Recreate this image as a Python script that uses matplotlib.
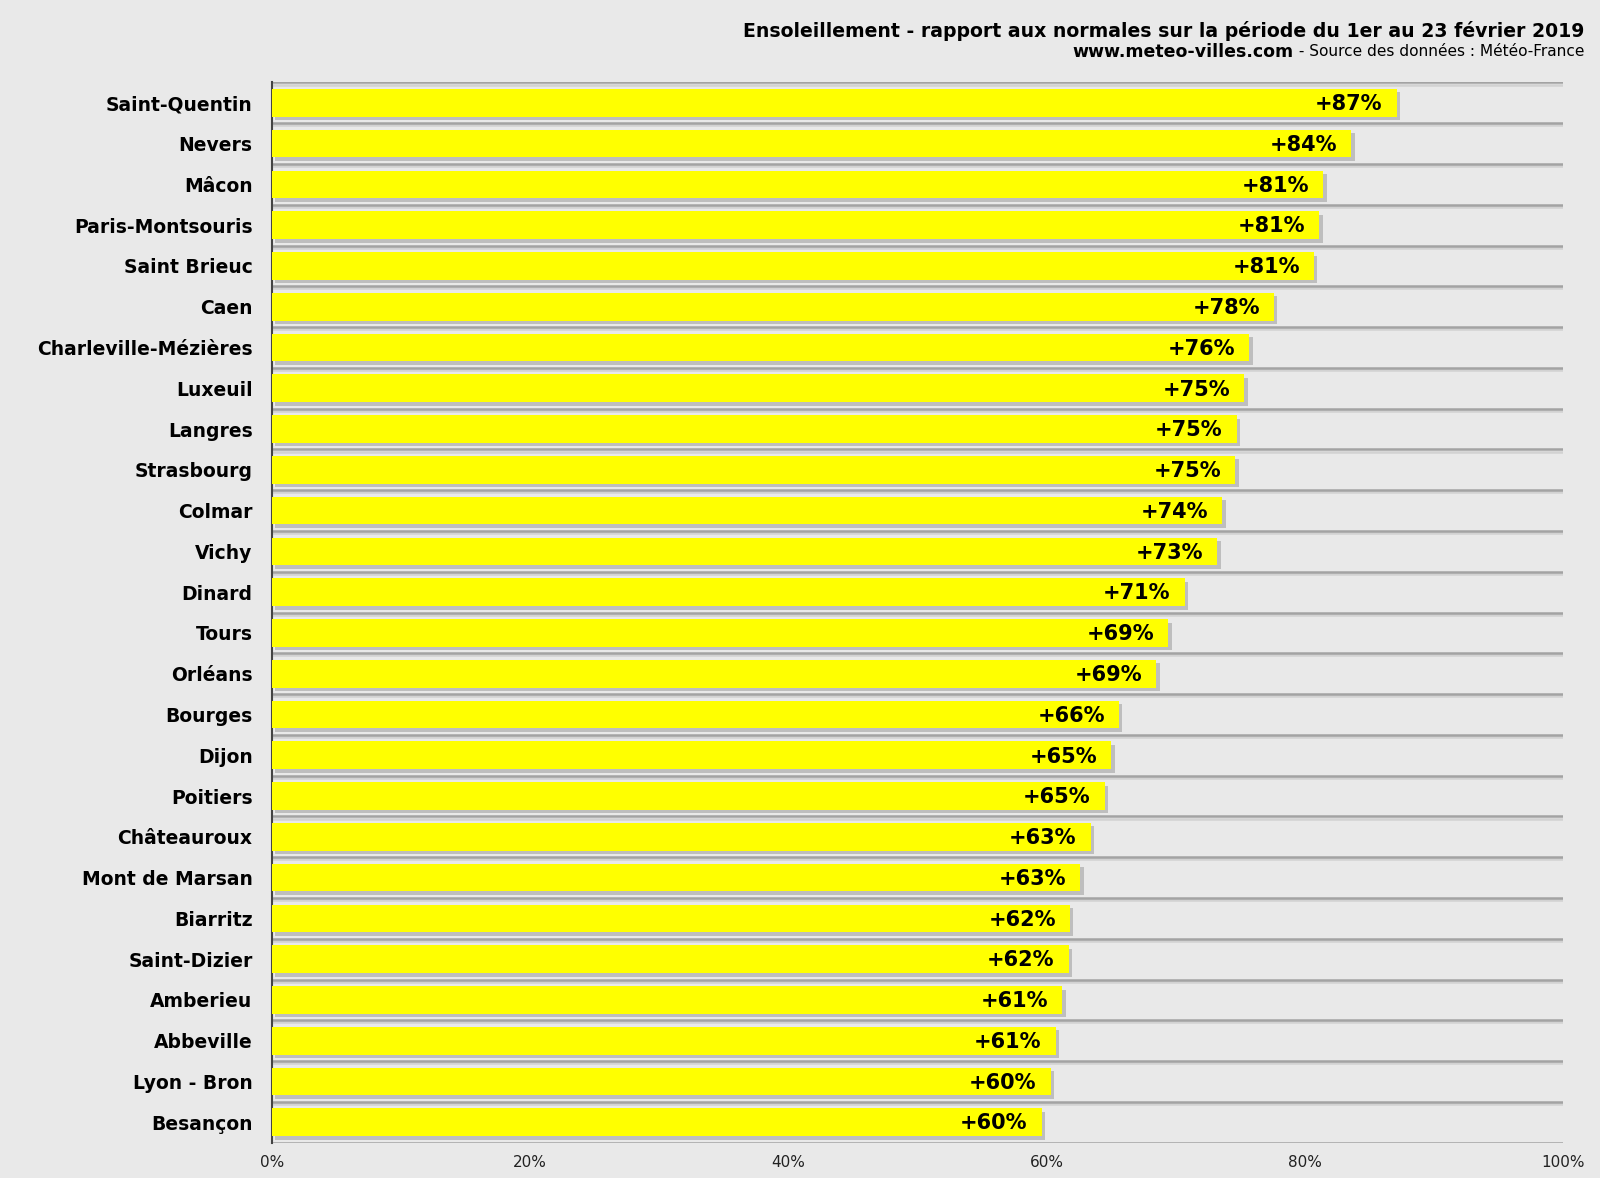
import matplotlib.pyplot as plt
import matplotlib.patheffects as pe

villes = ['Saint-Quentin', 'Nevers', 'Mâcon', 'Paris-Montsouris', 'Saint Brieuc',
          'Caen', 'Charleville-Mézières', 'Luxeuil', 'Langres', 'Strasbourg',
          'Colmar', 'Vichy', 'Dinard', 'Tours', 'Orléans', 'Bourges', 'Dijon',
          'Poitiers', 'Châteauroux', 'Mont de Marsan', 'Biarritz', 'Saint-Dizier',
          'Amberieu', 'Abbeville', 'Lyon - Bron', 'Besançon']
valeurs = [87.1, 83.6, 81.4, 81.1, 80.7, 77.6, 75.7, 75.3, 74.7, 74.6,
           73.6, 73.2, 70.7, 69.4, 68.5, 65.6, 65.0, 64.5, 63.4, 62.6,
           61.8, 61.7, 61.2, 60.7, 60.3, 59.6]
etiquettes = ['+87%', '+84%', '+81%', '+81%', '+81%', '+78%', '+76%', '+75%',
              '+75%', '+75%', '+74%', '+73%', '+71%', '+69%', '+69%', '+66%',
              '+65%', '+65%', '+63%', '+63%', '+62%', '+62%', '+61%', '+61%',
              '+60%', '+60%']
ticks_x = [0, 20, 40, 60, 80, 100]

fond = '#e9e9e9'
fig = plt.figure(figsize=(16, 11.78), dpi=100, facecolor=fond)
ax = fig.add_axes([0.17, 0.03, 0.807, 0.9])
ax.set_facecolor(fond)

n = len(villes)
y = list(range(n))

# lignes de séparation entre les villes
for k in range(n + 1):
    ax.axhline(k - 0.5, color='#a3a3a3', lw=1.8, zorder=1,
               path_effects=[pe.SimpleLineShadow(offset=(0, -1.5), shadow_color='#d2d2d2', alpha=1),
                             pe.Normal()])

barres = ax.barh(y, valeurs, height=0.68, color='#ffff00', zorder=3)
for b in barres:
    b.set_path_effects([pe.SimplePatchShadow(offset=(2.5, -2.5), shadow_rgbFace='#8a8a8a', alpha=0.45),
                        pe.Normal()])

for yi, v, lab in zip(y, valeurs, etiquettes):
    ax.text(v - 1.1, yi + 0.03, lab, ha='right', va='center', fontsize=15,
            fontweight='bold', color='#000000', zorder=4)

ax.set_xlim(0, 100)
ax.set_ylim(n - 0.5, -0.5)
ax.set_yticks(y)
ax.set_yticklabels(villes, fontsize=13.5, fontweight='bold', color='#000000')
ax.set_xticks(ticks_x)
ax.set_xticklabels([f'{t}%' for t in ticks_x], fontsize=11, color='#222222')
ax.tick_params(axis='both', length=0)
ax.tick_params(axis='y', pad=14)
ax.tick_params(axis='x', pad=9)

for s in ['top', 'right', 'bottom']:
    ax.spines[s].set_visible(False)
ax.spines['left'].set_color('#444444')
ax.spines['left'].set_linewidth(1.5)

fig.text(0.99, 0.974, 'Ensoleillement - rapport aux normales sur la période du 1er au 23 février 2019',
         ha='right', va='center', fontsize=13.6, fontweight='bold', color='#000000')
t2 = fig.text(0.99, 0.956, ' - Source des données : Météo-France',
              ha='right', va='center', fontsize=11.1, color='#000000')
fig.canvas.draw()
bb = t2.get_window_extent()
x_gauche = bb.x0 / fig.bbox.width
fig.text(x_gauche, 0.956, 'www.meteo-villes.com', ha='right', va='center',
         fontsize=12.5, fontweight='bold', color='#000000')

plt.savefig('out.png', dpi=100, facecolor=fond)
